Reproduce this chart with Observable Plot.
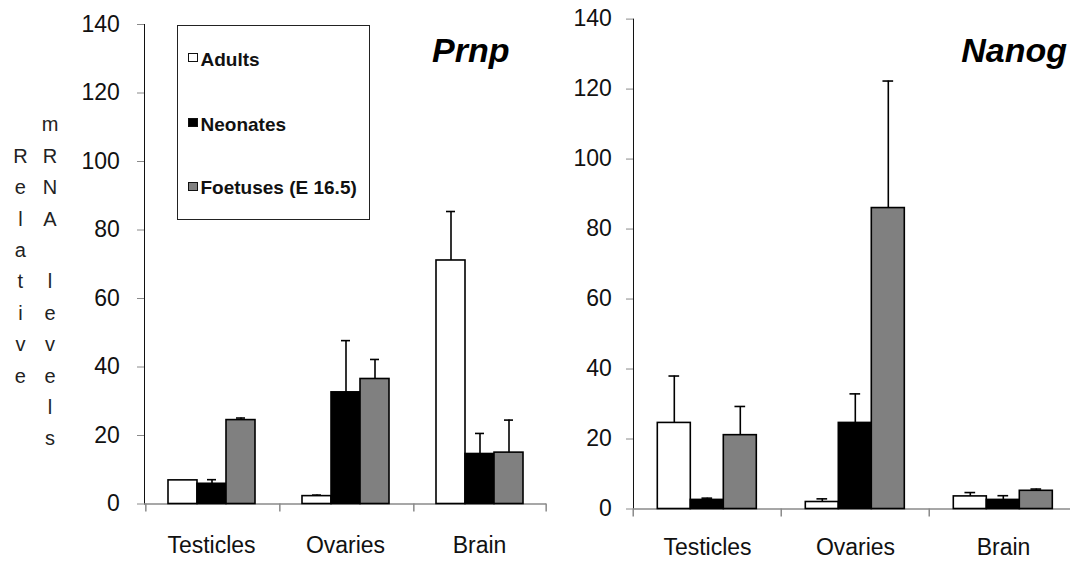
<!DOCTYPE html>
<html>
<head>
<meta charset="utf-8">
<script src="https://cdn.jsdelivr.net/npm/d3@7"></script>
<script src="https://cdn.jsdelivr.net/npm/@observablehq/plot@0.6"></script>
<style>
  html, body { margin: 0; padding: 0; background: #fff; overflow: hidden; }
  #root { position: relative; width: 1070px; height: 561px; overflow: hidden; font-family: "Liberation Sans", Arial, sans-serif; color: #111; }
  .panel { position: absolute; top: 0; }
  .panel svg { overflow: visible; background: transparent !important; max-width: none !important; display: block; }
  g[aria-label^="y-axis"], g[aria-label^="fx-axis"] { color: #8a8a8a; }
  g[aria-label^="y-axis"] text, g[aria-label^="fx-axis"] text { fill: #111; }
  .title { position: absolute; font-weight: bold; font-style: italic; font-size: 34px; line-height: 34px; color: #000; white-space: nowrap; }
  .legend { position: absolute; left: 176.5px; top: 24.5px; width: 191px; height: 193px; border: 1.6px solid #222; background: #fff; }
  .lg-item { position: absolute; font-weight: bold; font-size: 19px; line-height: 19px; white-space: nowrap; color: #111; }
  .lg-key { position: absolute; width: 7.5px; height: 7.5px; border: 1.5px solid #111; }
  .ylab { position: absolute; width: 24px; text-align: center; font-size: 20px; line-height: 31.4px; color: #222; }
</style>
</head>
<body>
<div id="root"></div>
<script>
// ---- data ----
const categories = ["Testicles", "Ovaries", "Brain"];
const series = ["Adults", "Neonates", "Foetuses (E 16.5)"];
const seriesFill = ["#ffffff", "#000000", "#808080"];

// Prnp: mean per category (rows) x series (columns), and upper error
const prnpMean = [
  [6.9, 5.9, 24.5],
  [2.3, 32.6, 36.5],
  [71.1, 14.6, 15.0]
];
const prnpErr = [
  [0.0, 1.2, 0.6],
  [0.3, 15.1, 5.7],
  [14.3, 6.0, 9.5]
];

// Nanog
const nanogMean = [
  [24.6, 2.6, 21.1],
  [2.0, 24.6, 86.0],
  [3.6, 2.6, 5.2]
];
const nanogErr = [
  [13.4, 0.5, 8.2],
  [0.9, 8.3, 36.3],
  [1.1, 1.2, 0.5]
];

const yTicks = [0, 20, 40, 60, 80, 100, 120, 140];
const titles = ["Prnp", "Nanog"];
const yLabelWords = ["Relative", "mRNA levels"];

// ---- drawing ----
function panel(means, errs, o) {
  const rows = [];
  categories.forEach((c, i) => series.forEach((s, j) => rows.push({
    category: c, series: s, value: means[i][j], err: errs[i][j], top: means[i][j] + errs[i][j]
  })));
  const facetW = (o.width - o.marginLeft - o.marginRight) / categories.length;
  const step = facetW / (series.length + 2 * o.pad);
  const edge = o.pad * step + step / 2;
  const capInset = (step - o.cap) / 2;
  const axisColor = "#8a8a8a";
  return Plot.plot({
    width: o.width, height: o.height,
    marginLeft: o.marginLeft, marginRight: o.marginRight,
    marginTop: o.marginTop, marginBottom: o.marginBottom,
    style: { fontFamily: '"Liberation Sans", Arial, sans-serif', fontSize: "23px", background: "transparent", overflow: "visible", color: "#111", maxWidth: "none" },
    facet: { data: rows, x: "category" },
    fx: { domain: categories, padding: 0, paddingInner: 0, paddingOuter: 0, axis: "bottom", tickSize: 0, tickPadding: o.labelPad, label: null },
    x: { domain: series, paddingInner: 0, paddingOuter: o.pad, axis: null },
    y: { domain: [0, 140], ticks: yTicks, tickSize: 7, tickPadding: o.yPad, line: true, label: null, tickFormat: d => String(d) },
    color: { domain: series, range: seriesFill },
    marks: [
      Plot.ruleY([0], { stroke: axisColor, strokeWidth: 1.5 }),
      Plot.ruleX(rows, { filter: d => d.series === series[0], x: "series", y1: 0, y2: 0, dx: -edge, insetBottom: -8, stroke: axisColor, strokeWidth: 1.5 }),
      Plot.ruleX(rows, { filter: d => d.series === series[series.length - 1] && d.category === categories[categories.length - 1], x: "series", y1: 0, y2: 0, dx: edge, insetBottom: -8, stroke: axisColor, strokeWidth: 1.5 }),
      Plot.barY(rows, { x: "series", y: "value", fill: "series", stroke: "#000", strokeWidth: 1.6 }),
      Plot.ruleX(rows, { filter: d => d.err > 0, x: "series", y1: "value", y2: "top", stroke: "#000", strokeWidth: 1.6 }),
      Plot.tickY(rows, { filter: d => d.err > 0, x: "series", y: "top", stroke: "#000", strokeWidth: 1.6, insetLeft: capInset, insetRight: capInset })
    ]
  });
}

const root = document.getElementById("root");

function place(node, left, width) {
  const div = document.createElement("div");
  div.className = "panel";
  div.style.left = left + "px";
  div.style.width = width + "px";
  div.appendChild(node);
  root.appendChild(div);
}

place(panel(prnpMean, prnpErr, {
  width: 560, height: 561, marginLeft: 143, marginRight: 14, marginTop: 24, marginBottom: 57.5,
  pad: 0.739, cap: 10, labelPad: 32.2, yPad: 17.7
}), 0, 560);

place(panel(nanogMean, nanogErr, {
  width: 540, height: 561, marginLeft: 91.7, marginRight: 2, marginTop: 18.6, marginBottom: 52.5,
  pad: 0.733, cap: 11, labelPad: 30.0, yPad: 14.7
}), 540, 540);

// titles
const t1 = document.createElement("div");
t1.className = "title"; t1.textContent = titles[0];
t1.style.left = "432px"; t1.style.top = "33.2px";
root.appendChild(t1);
const t2 = document.createElement("div");
t2.className = "title"; t2.textContent = titles[1];
t2.style.right = "3px"; t2.style.top = "33.2px";
root.appendChild(t2);

// legend
const legend = document.createElement("div");
legend.className = "legend";
root.appendChild(legend);
const legendBaselines = [65.7, 130.7, 194.5];
series.forEach((s, i) => {
  const key = document.createElement("div");
  key.className = "lg-key";
  key.style.background = seriesFill[i];
  key.style.left = "188px";
  key.style.top = (legendBaselines[i] - 12.8) + "px";
  root.appendChild(key);
  const item = document.createElement("div");
  item.className = "lg-item";
  item.textContent = s;
  item.style.left = "200.5px";
  item.style.top = (legendBaselines[i] - 16.1) + "px";
  root.appendChild(item);
});

// vertical y label: letters stacked
function stacked(text, centerX, firstBaseline) {
  const div = document.createElement("div");
  div.className = "ylab";
  div.style.left = (centerX - 12) + "px";
  div.style.top = (firstBaseline - 22.6) + "px";
  div.innerHTML = Array.from(text).map(ch => ch === " " ? "&nbsp;" : ch).join("<br>");
  root.appendChild(div);
}
stacked(yLabelWords[0], 20.4, 163.4);
stacked(yLabelWords[1], 50, 132);
</script>
</body>
</html>
